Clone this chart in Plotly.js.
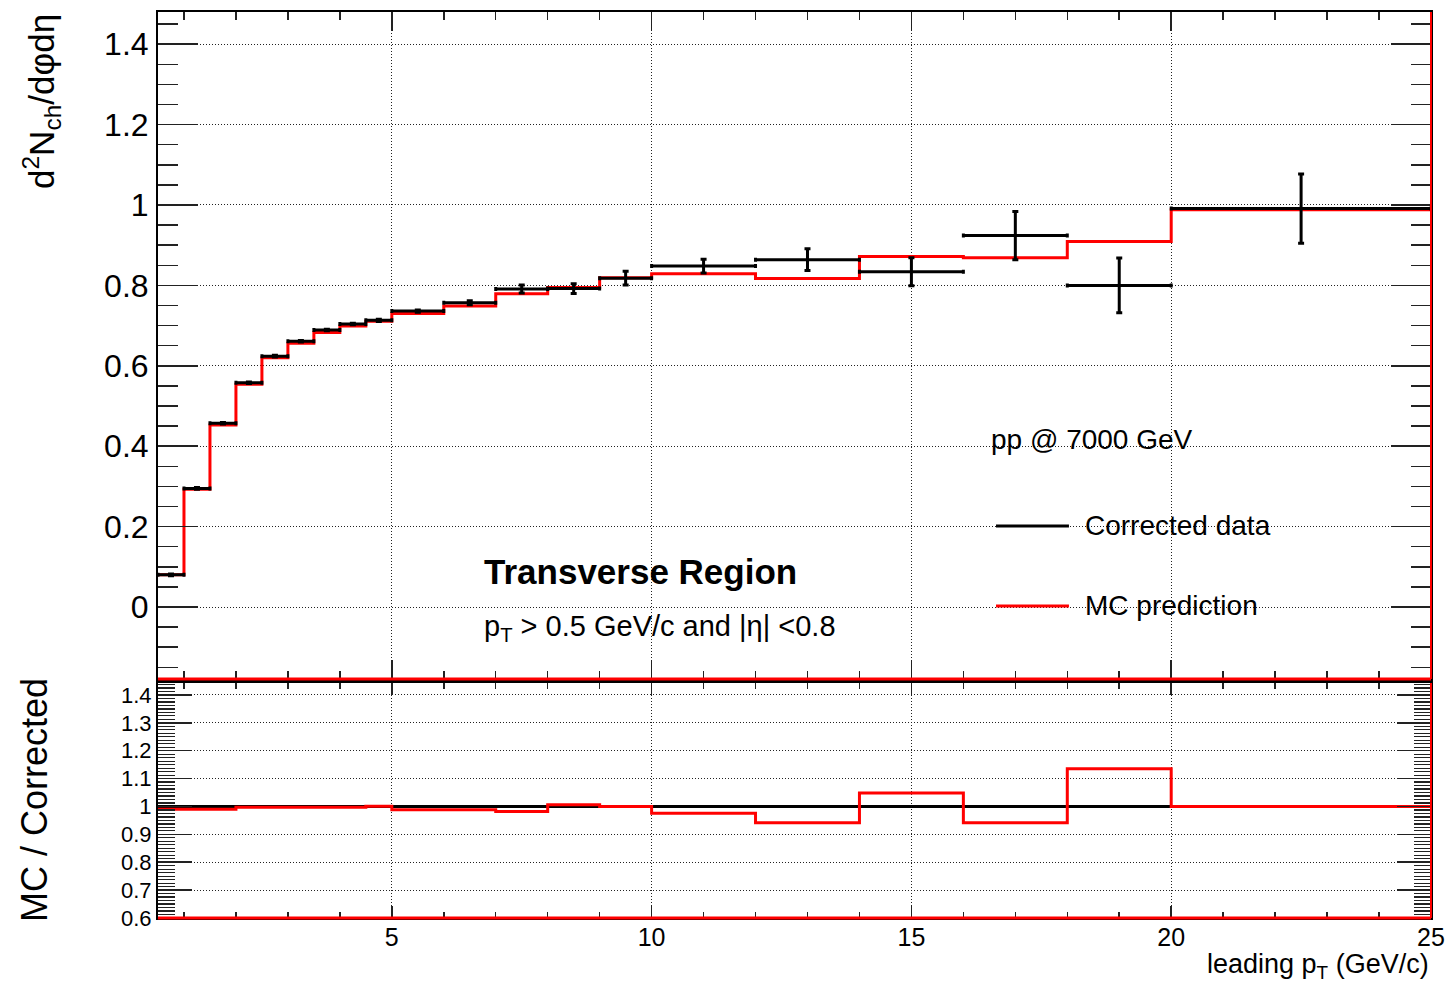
<!DOCTYPE html>
<html>
<head>
<meta charset="utf-8">
<script src="https://cdn.plot.ly/plotly-3.0.1.min.js"></script>
<style>html,body{margin:0;padding:0;background:#fff;}</style>
</head>
<body>
<div id="chart" style="width:1447px;height:983px;"></div>
<script>
// Leading-pT bin edges (GeV/c)
const binEdges = [0.5, 1, 1.5, 2, 2.5, 3, 3.5, 4, 4.5, 5, 6, 7, 8, 9, 10, 12, 14, 16, 18, 20, 25];

// Transverse-region density, corrected data and its uncertainty
const correctedData = [0.080, 0.295, 0.457, 0.558, 0.624, 0.661, 0.689, 0.704, 0.713, 0.736,
                       0.757, 0.791, 0.792, 0.818, 0.848, 0.864, 0.834, 0.924, 0.800, 0.991];
const correctedErr  = [0.002, 0.002, 0.002, 0.002, 0.002, 0.002, 0.002, 0.002, 0.003, 0.003,
                       0.005, 0.010, 0.012, 0.017, 0.017, 0.027, 0.035, 0.060, 0.068, 0.086];

// MC prediction
const mcPrediction  = [0.080, 0.293, 0.453, 0.554, 0.620, 0.656, 0.683, 0.699, 0.711, 0.730,
                       0.749, 0.779, 0.795, 0.819, 0.829, 0.817, 0.872, 0.869, 0.909, 0.988];

// Ratio panel: MC / Corrected and the reference line
const ratioData = [1, 1, 1, 1, 1, 1, 1, 1, 1, 1, 1, 1, 1, 1, 1, 1, 1, 1, 1, 1];
const ratioMC   = [0.990, 0.990, 0.990, 0.997, 0.997, 0.997, 0.997, 0.997, 1.001, 0.988,
                   0.988, 0.982, 1.006, 1.000, 0.976, 0.942, 1.048, 0.942, 1.135, 1.000];

// Tick values
const xTicks      = [5, 10, 15, 20, 25];
const topYTicks   = [0, 0.2, 0.4, 0.6, 0.8, 1, 1.2, 1.4];
const ratioYTicks = [0.6, 0.7, 0.8, 0.9, 1, 1.1, 1.2, 1.3, 1.4];

const FONT = 'Liberation Sans, Arial, Helvetica, sans-serif';
const RED = '#ff0000';

// helpers: step outline and bin centres / half widths from the edges
const stepY = v => v.concat([v[v.length - 1]]);
const centres = binEdges.slice(0, -1).map((lo, i) => (lo + binEdges[i + 1]) / 2);
const halfW = binEdges.slice(0, -1).map((lo, i) => (binEdges[i + 1] - lo) / 2);

const traces = [
  {
    x: binEdges, y: stepY(mcPrediction), xaxis: 'x', yaxis: 'y',
    type: 'scatter', mode: 'lines', line: {shape: 'hv', color: RED, width: 3},
    name: 'MC prediction', showlegend: false, hoverinfo: 'skip'
  },
  {
    x: centres, y: correctedData, xaxis: 'x', yaxis: 'y',
    type: 'scatter', mode: 'markers', marker: {size: 2, color: '#000'},
    error_y: {type: 'data', array: correctedErr, visible: true, color: '#000', thickness: 3, width: 3},
    error_x: {type: 'data', array: halfW, visible: true, color: '#000', thickness: 3, width: 2},
    name: 'Corrected data', showlegend: false
  },
  {
    x: binEdges, y: stepY(ratioData), xaxis: 'x2', yaxis: 'y2',
    type: 'scatter', mode: 'lines', line: {shape: 'hv', color: '#000', width: 3},
    showlegend: false, hoverinfo: 'skip'
  },
  {
    x: binEdges, y: stepY(ratioMC), xaxis: 'x2', yaxis: 'y2',
    type: 'scatter', mode: 'lines', line: {shape: 'hv', color: RED, width: 3},
    showlegend: false, hoverinfo: 'skip'
  }
];

const gridStyle = {showgrid: true, gridcolor: '#222', gridwidth: 1, griddash: '1px,2px', zeroline: false};
const frame = {showline: true, linecolor: '#000', linewidth: 2, mirror: 'allticks', ticks: 'inside', tickcolor: '#222', tickwidth: 1.5};

const layout = {
  width: 1447, height: 983,
  margin: {l: 158, r: 16, t: 12, b: 65},
  paper_bgcolor: '#fff', plot_bgcolor: '#fff',
  font: {family: FONT, color: '#000'},
  showlegend: false,
  xaxis: Object.assign({}, gridStyle, frame, {
    range: [0.5, 25], anchor: 'y', matches: 'x2', showticklabels: false,
    tickmode: 'array', tickvals: xTicks, ticklen: 19,
    minor: {tickmode: 'linear', tick0: 0, dtick: 1, ticks: 'inside', ticklen: 8, tickcolor: '#222', tickwidth: 1.5, showgrid: false}
  }),
  yaxis: Object.assign({}, gridStyle, frame, {
    domain: [0.2638, 1], range: [-0.179, 1.48], anchor: 'x',
    tickmode: 'array', tickvals: topYTicks, ticktext: topYTicks.map(String), ticklen: 40,
    tickfont: {size: 32, family: FONT, color: '#000'}, ticklabelstandoff: 1,
    minor: {tickmode: 'linear', tick0: 0, dtick: 0.05, ticks: 'inside', ticklen: 20, tickcolor: '#222', tickwidth: 1.5, showgrid: false}
  }),
  xaxis2: Object.assign({}, gridStyle, frame, {
    range: [0.5, 25], anchor: 'y2',
    tickmode: 'array', tickvals: xTicks, ticktext: xTicks.map(String), ticklen: 12,
    tickfont: {size: 25, family: FONT, color: '#000'}, ticklabelstandoff: -4,
    minor: {tickmode: 'linear', tick0: 0, dtick: 1, ticks: 'inside', ticklen: 6, tickcolor: '#222', tickwidth: 1.5, showgrid: false}
  }),
  yaxis2: Object.assign({}, gridStyle, frame, {
    domain: [0, 0.2594], range: [0.6, 1.443], anchor: 'x2',
    tickmode: 'array', tickvals: ratioYTicks, ticktext: ratioYTicks.map(String), ticklen: 34,
    tickfont: {size: 22, family: FONT, color: '#000'}, ticklabelstandoff: 0,
    minor: {tickmode: 'linear', tick0: 0.6, dtick: 0.0125, ticks: 'inside', ticklen: 17, tickcolor: '#222', tickwidth: 1.2, showgrid: false}
  }),
  shapes: [
    // white background of the legend block
    {type: 'rect', xref: 'paper', yref: 'paper', x0: 0.645, x1: 0.985, y0: 0.2958, y1: 0.5717,
     fillcolor: '#fff', line: {width: 0}, layer: 'between'},
    // legend line samples
    {type: 'line', xref: 'paper', yref: 'paper', x0: 0.6583, x1: 0.7156, y0: 0.4327, y1: 0.4327,
     line: {color: '#000', width: 3}},
    {type: 'line', xref: 'paper', yref: 'paper', x0: 0.6583, x1: 0.7156, y0: 0.3444, y1: 0.3444,
     line: {color: RED, width: 3}},
    // red histogram outline along bottom and right edges of each pad
    {type: 'line', xref: 'x domain', yref: 'y domain', x0: 0, x1: 1, y0: 0, y1: 0, line: {color: RED, width: 3}, layer: 'above'},
    {type: 'line', xref: 'x domain', yref: 'y domain', x0: 1, x1: 1, y0: 0, y1: 1, line: {color: RED, width: 2}, layer: 'above'},
    {type: 'line', xref: 'x2 domain', yref: 'y2 domain', x0: 0, x1: 1, y0: 0, y1: 0, line: {color: RED, width: 3}, layer: 'above'},
    {type: 'line', xref: 'x2 domain', yref: 'y2 domain', x0: 1, x1: 1, y0: 0, y1: 1, line: {color: RED, width: 2}, layer: 'above'}
  ],
  annotations: [
    {text: 'd<sup>2</sup>N<sub>ch</sub>/dφdη', textangle: -90, xref: 'paper', yref: 'paper',
     x: -0.0911, y: 0.9007, xanchor: 'center', yanchor: 'middle', showarrow: false,
     font: {size: 35, family: FONT, color: '#000'}},
    {text: 'MC / Corrected', textangle: -90, xref: 'paper', yref: 'paper',
     x: -0.0975, y: 0.1302, xanchor: 'center', yanchor: 'middle', showarrow: false,
     font: {size: 36, family: FONT, color: '#000'}},
    {text: 'leading p<sub>T</sub> (GeV/c)', xref: 'paper', yref: 'paper',
     x: 1, y: -0.053, xanchor: 'right', yanchor: 'middle', showarrow: false,
     font: {size: 27, family: FONT, color: '#000'}},
    {text: 'pp @ 7000 GeV', xref: 'paper', yref: 'paper', x: 0.6530, y: 0.5276,
     xanchor: 'left', yanchor: 'middle', showarrow: false, font: {size: 28, family: FONT, color: '#000'}},
    {text: 'Corrected data', xref: 'paper', yref: 'paper', x: 0.7265, y: 0.4327,
     xanchor: 'left', yanchor: 'middle', showarrow: false, font: {size: 28, family: FONT, color: '#000'}},
    {text: 'MC prediction', xref: 'paper', yref: 'paper', x: 0.7265, y: 0.3444,
     xanchor: 'left', yanchor: 'middle', showarrow: false, font: {size: 28, family: FONT, color: '#000'}},
    {text: '<b>Transverse Region</b>', xref: 'paper', yref: 'paper', x: 0.2545, y: 0.3830,
     xanchor: 'left', yanchor: 'middle', showarrow: false, font: {size: 35, family: FONT, color: '#000'}},
    {text: 'p<sub>T</sub> > 0.5 GeV/c and |η| <0.8', xref: 'paper', yref: 'paper', x: 0.2545, y: 0.3200,
     xanchor: 'left', yanchor: 'middle', showarrow: false, font: {size: 29, family: FONT, color: '#000'}}
  ]
};

Plotly.newPlot('chart', traces, layout, {staticPlot: true, displayModeBar: false});
</script>
</body>
</html>
